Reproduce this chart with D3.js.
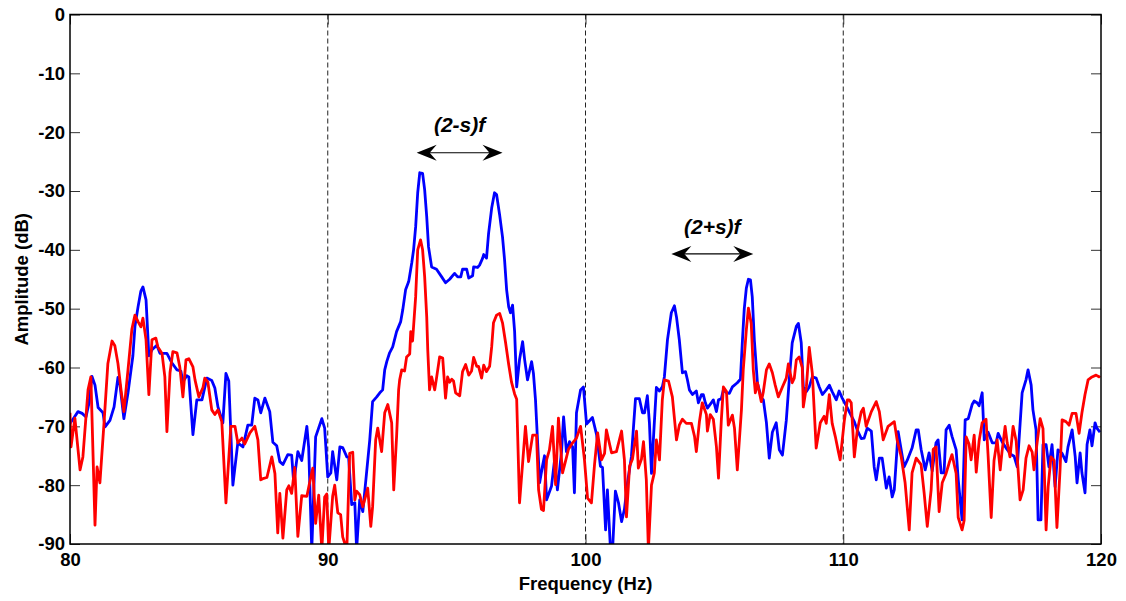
<!DOCTYPE html>
<meta charset="utf-8">
<style>
body{margin:0;background:white}
text{font-family:"Liberation Sans",Arial,sans-serif;font-weight:bold}
.tick text{font-size:18.5px;fill:#000}
.tick line{stroke:#333;stroke-width:1}
</style>
<svg width="1126" height="601"></svg>
<script src="https://cdn.jsdelivr.net/npm/d3@7"></script>
<script>
// spectrum (Hz, dB)
var blueHz = [80.00,80.16,80.31,80.47,80.62,80.74,80.85,80.97,81.09,81.28,81.36,81.55,81.71,81.86,81.94,82.09,82.25,82.44,82.52,82.64,82.75,82.83,82.95,83.06,83.18,83.37,83.49,83.76,83.95,84.15,84.30,84.38,84.53,84.61,84.77,84.92,85.12,85.31,85.50,85.62,85.74,85.93,86.05,86.16,86.32,86.51,86.71,86.90,87.05,87.17,87.29,87.40,87.56,87.75,87.87,88.02,88.14,88.26,88.45,88.60,88.68,88.84,88.99,89.19,89.26,89.38,89.53,89.77,89.88,90.00,90.12,90.19,90.35,90.47,90.58,90.74,90.81,90.93,91.05,91.12,91.24,91.36,91.51,91.63,91.74,91.90,92.02,92.13,92.21,92.29,92.40,92.52,92.67,92.83,92.91,93.02,93.14,93.26,93.33,93.41,93.49,93.57,93.68,93.76,93.84,93.91,94.03,94.22,94.42,94.57,94.73,94.92,95.04,95.16,95.23,95.39,95.47,95.62,95.66,95.81,95.89,96.01,96.05,96.16,96.24,96.36,96.47,96.55,96.67,96.78,96.86,96.94,97.02,97.09,97.17,97.25,97.33,97.44,97.56,97.64,97.75,97.91,97.98,98.06,98.10,98.22,98.33,98.41,98.49,98.68,98.80,98.91,99.07,99.15,99.26,99.38,99.50,99.57,99.65,99.81,99.92,100.04,100.27,100.43,100.58,100.66,100.78,100.85,100.97,101.05,101.16,101.28,101.40,101.51,101.63,101.78,101.94,102.09,102.21,102.29,102.40,102.48,102.56,102.67,102.75,102.87,102.98,103.06,103.18,103.33,103.45,103.53,103.64,103.76,103.88,103.95,104.03,104.15,104.30,104.38,104.50,104.57,104.65,104.73,104.88,104.96,105.08,105.16,105.27,105.35,105.47,105.58,105.70,105.89,106.01,106.09,106.16,106.24,106.32,106.40,106.47,106.55,106.67,106.82,106.90,107.02,107.13,107.25,107.40,107.52,107.64,107.79,107.91,108.02,108.18,108.26,108.37,108.45,108.57,108.68,108.80,108.95,109.07,109.19,109.34,109.46,109.57,109.73,109.84,109.96,110.12,110.23,110.43,110.54,110.70,110.81,110.93,111.09,111.20,111.28,111.40,111.51,111.67,111.78,111.90,111.98,112.13,112.36,112.48,112.67,112.83,112.91,113.02,113.18,113.33,113.45,113.60,113.68,113.80,113.91,113.99,114.11,114.22,114.38,114.46,114.61,114.73,114.85,115.00,115.08,115.19,115.27,115.39,115.47,115.62,115.78,115.93,116.01,116.16,116.32,116.51,116.63,116.75,116.82,116.94,117.09,117.17,117.29,117.36,117.48,117.56,117.67,117.75,117.87,117.98,118.10,118.22,118.33,118.49,118.64,118.72,118.88,119.00,119.07,119.19,119.26,119.38,119.46,119.57,119.65,119.77,119.84,119.96];
var blueDb = [-69.5,-68.5,-67.5,-67.8,-68.4,-66,-61.5,-63,-66.8,-67.7,-70.1,-69,-66.7,-61.7,-63,-68.7,-64.3,-58,-53,-49.7,-47,-46.3,-48.5,-58,-57,-56.2,-57.6,-57.6,-59.2,-60.4,-60.6,-62.4,-61.4,-61.6,-71.4,-65.5,-65.5,-61.8,-62.2,-63.5,-66.7,-69.4,-61,-62.3,-80,-72.8,-73.5,-69.8,-69.8,-65.2,-65.5,-67.7,-65.2,-67.5,-72.7,-73.3,-76,-76.5,-74.8,-74.9,-79.6,-74.3,-75.8,-70,-73.6,-91,-71.8,-68.7,-70.3,-78.6,-77.9,-74.3,-79.1,-73.5,-73.6,-75.2,-75.3,-83.3,-83,-91,-82.5,-84.5,-77.7,-72.3,-65.8,-65,-64.3,-63.8,-60.4,-59,-57.5,-56.5,-53.9,-52.2,-50.2,-46.8,-45.4,-42.2,-40,-36.1,-30.3,-26.9,-27,-29.8,-34.4,-39.5,-42.9,-43.3,-44.6,-45.6,-45,-44,-44.6,-44.6,-43.3,-43.3,-44.8,-44.4,-42.9,-43,-42.6,-41.4,-40.8,-41.4,-37.2,-32.9,-30.3,-30.6,-34.1,-37.8,-41.7,-46.8,-49.7,-50.7,-49.4,-53.9,-63.3,-58.7,-55.6,-58.7,-62.1,-59,-61,-65.5,-69,-79.6,-76.8,-75,-82.5,-80.2,-75.7,-80.8,-74.3,-68.4,-74.3,-72.6,-73.5,-81.3,-67.7,-63.8,-63.3,-69.6,-68.5,-71.4,-76.8,-77,-87.6,-80.8,-91,-91,-81,-83,-86.2,-84.1,-79.6,-75.2,-65.3,-65.3,-67.7,-67.7,-64.8,-69.4,-78,-69.4,-63.4,-64,-63.3,-61.6,-55.3,-50.7,-49.5,-51.4,-55.3,-60.9,-60.7,-62,-63.8,-64.6,-64,-66,-64.6,-64.6,-66,-66.9,-66,-65.5,-67.5,-65.5,-65.3,-63.8,-64.3,-64.4,-63.3,-62.6,-62,-55.3,-50,-46.5,-45,-45.1,-48,-55.3,-62.6,-65.2,-65.5,-69.4,-75.4,-71,-69.4,-74,-74.9,-69,-61.8,-55.8,-53,-52.5,-55.8,-63.3,-64.1,-63.3,-61.6,-61.8,-63.3,-64.6,-63.8,-63,-64.1,-65.5,-64,-65.2,-66.5,-67.5,-69.2,-70.6,-72.1,-72,-70.3,-70.8,-76.9,-79.1,-75.4,-75.4,-80.5,-78.6,-82,-80.8,-70.9,-76.9,-75.8,-73.7,-70.6,-70.6,-73.9,-77.4,-74.5,-77.6,-72.8,-72.3,-77.9,-77.9,-70.6,-69.8,-71.7,-74,-79,-85.9,-68.9,-68.7,-66.3,-65.7,-66,-66.5,-64.3,-72.3,-71,-72.8,-72.8,-71.2,-72.6,-73.7,-74.8,-75.1,-76.9,-72.3,-64.3,-62.1,-60.4,-63,-67.2,-70.6,-85.9,-85.9,-73.1,-73.1,-76.9,-73.1,-80.3,-74,-74.6,-76,-73.5,-70.6,-75.2,-79.6,-74.5,-77.9,-81.3,-73.1,-70.6,-73.3,-69.4,-70.3,-71];

var redHz = [80.00,80.04,80.19,80.39,80.50,80.70,80.81,80.97,81.05,81.16,81.32,81.47,81.63,81.74,81.86,81.98,82.09,82.25,82.40,82.52,82.64,82.75,82.83,82.95,83.06,83.18,83.33,83.41,83.57,83.68,83.76,83.88,83.99,84.15,84.26,84.38,84.50,84.61,84.77,84.85,85.00,85.16,85.23,85.35,85.50,85.62,85.74,85.89,86.05,86.24,86.40,86.51,86.67,86.78,86.98,87.17,87.29,87.40,87.48,87.64,87.83,87.95,88.06,88.14,88.26,88.41,88.49,88.60,88.72,88.84,88.99,89.19,89.30,89.42,89.53,89.65,89.77,89.88,89.96,90.04,90.19,90.27,90.39,90.50,90.58,90.74,90.85,90.97,91.05,91.12,91.24,91.36,91.55,91.67,91.74,91.86,91.94,92.09,92.21,92.33,92.48,92.56,92.67,92.75,92.79,92.87,92.98,93.06,93.18,93.22,93.29,93.41,93.49,93.60,93.68,93.76,93.84,93.88,93.95,94.03,94.15,94.22,94.34,94.46,94.57,94.65,94.73,94.81,94.88,94.96,95.12,95.23,95.35,95.47,95.58,95.66,95.78,95.85,95.97,96.05,96.16,96.28,96.36,96.43,96.55,96.67,96.78,96.90,97.02,97.13,97.25,97.33,97.44,97.56,97.67,97.79,97.95,98.10,98.18,98.29,98.37,98.49,98.60,98.72,98.84,98.95,99.11,99.22,99.34,99.50,99.65,99.81,99.96,100.08,100.23,100.35,100.47,100.62,100.74,100.81,101.01,101.20,101.40,101.51,101.59,101.71,101.82,101.98,102.05,102.17,102.25,102.36,102.44,102.56,102.67,102.75,102.87,102.98,103.06,103.22,103.37,103.53,103.64,103.76,103.91,104.11,104.23,104.30,104.42,104.53,104.69,104.73,104.84,104.96,105.08,105.16,105.27,105.35,105.47,105.54,105.70,105.78,105.89,106.05,106.12,106.24,106.32,106.43,106.51,106.59,106.67,106.82,106.90,107.02,107.13,107.25,107.36,107.48,107.64,107.79,107.87,108.02,108.10,108.18,108.29,108.41,108.45,108.57,108.68,108.80,108.95,109.11,109.26,109.34,109.46,109.57,109.69,109.81,109.88,110.04,110.16,110.23,110.31,110.43,110.54,110.70,110.78,110.89,111.09,111.28,111.40,111.55,111.74,111.98,112.09,112.25,112.40,112.56,112.67,112.83,113.02,113.14,113.26,113.41,113.49,113.60,113.72,113.84,113.99,114.11,114.22,114.38,114.46,114.61,114.69,114.77,114.88,114.96,115.08,115.16,115.27,115.39,115.54,115.62,115.74,115.85,115.97,116.09,116.16,116.28,116.36,116.47,116.59,116.71,116.86,116.98,117.09,117.21,117.33,117.40,117.52,117.64,117.75,117.87,117.95,118.06,118.18,118.29,118.41,118.49,118.64,118.76,118.88,119.03,119.15,119.26,119.38,119.50,119.65,119.81,119.92,119.96];
var redDb = [-67.7,-73.5,-68.6,-77.4,-75.2,-63.8,-61.6,-86.8,-76.9,-79.6,-69.4,-59.3,-55.5,-56.3,-59.3,-63.8,-67.5,-60.4,-53.5,-51.1,-52.2,-53.1,-51.6,-55.3,-64.6,-55.3,-55,-56.5,-57.6,-61.6,-70.9,-60.9,-57.3,-57.5,-59.9,-65,-58.7,-58.5,-59.9,-62.1,-65,-63.4,-61.8,-62.5,-67.2,-68,-67.2,-69.2,-83,-70,-70,-72.8,-72,-73,-71.1,-70,-72.3,-79.1,-78.9,-78.7,-75.2,-78,-88.1,-81.4,-89,-80.8,-80.1,-81.4,-77,-88.7,-81.8,-81.9,-79.5,-77.1,-86.5,-81.7,-91,-82,-81.5,-91,-81.9,-80,-84.7,-85,-88.8,-91,-74.6,-74.4,-82.5,-81,-81.6,-83.7,-80.5,-87,-83.7,-72.3,-70.3,-74.3,-67.7,-66.3,-69.4,-80.8,-71.8,-63.8,-62.1,-60.4,-60.6,-58.2,-57.7,-53.9,-55.5,-48,-40,-38.3,-40,-44.6,-51.4,-57,-63.8,-61.6,-63.8,-61.8,-58.2,-58.4,-65.2,-61.6,-62.5,-62,-62.3,-64.3,-64.8,-60.7,-59.5,-61.3,-60.6,-58.3,-59.8,-59.8,-61.8,-59.6,-60.7,-59.8,-56.5,-52.4,-51.1,-50.8,-52.4,-55.8,-59.5,-62.5,-64.5,-65.4,-83,-76.3,-70,-76,-71.5,-71.5,-80.8,-84.1,-84.3,-75.7,-74,-70,-79.9,-68.6,-77.9,-76,-73.9,-72.8,-72,-70,-75.7,-82.2,-83,-76.5,-71.1,-75.7,-74.6,-70.6,-74.5,-74.3,-70.8,-75.7,-85.4,-76.8,-75.6,-70.8,-77.1,-75.6,-72.6,-79.1,-91,-80,-77.9,-72.3,-75.7,-65.5,-62.1,-62.3,-65,-72.3,-69.8,-68.8,-69.5,-69.5,-71.7,-74.3,-69.2,-66,-68,-70.8,-68,-68.8,-73.5,-78.8,-68.9,-63.3,-64.1,-69.8,-68.1,-70.3,-77.4,-67.2,-60.4,-53.6,-49.9,-52.5,-60.4,-64.3,-62.6,-65.8,-64.1,-60.4,-59.4,-60.9,-63,-65,-63.3,-61.8,-59.4,-62.6,-61.8,-58.7,-58.2,-60,-66.7,-63.3,-56.6,-61,-73.7,-69.4,-68.3,-69.5,-64.6,-69.5,-71.7,-74.3,-75.7,-69.1,-65.5,-65.5,-66,-75.2,-70.8,-67.5,-66.9,-70,-67.5,-65.8,-67.5,-72.3,-70,-69.2,-72.3,-75.2,-79.6,-87.6,-77.9,-75.4,-76.5,-81.4,-87,-80.8,-73.9,-73.5,-84.5,-79.6,-78,-76.2,-74.8,-78,-85.5,-87.6,-86,-71.8,-73,-75.7,-71.5,-77.8,-72.5,-69.4,-68.8,-75,-85.5,-75.8,-72.3,-77.4,-74.3,-70,-72.8,-75.2,-70,-72.5,-82.5,-80.8,-75.4,-73.3,-74.4,-77.4,-72.8,-68.7,-70.4,-87.6,-80.3,-75.2,-75.8,-87.2,-77.5,-68.9,-69.2,-69.8,-67.8,-67.8,-71.2,-67.7,-64.6,-62.1,-61.6,-61.3,-61.6,-61.4];

var xTicks = [80, 90, 100, 110, 120];
var yTicks = [0, -10, -20, -30, -40, -50, -60, -70, -80, -90];
var gridHz = [90, 100, 110];

// annotation: label, arrow ends (Hz), arrow level (dB), label level (dB)
var notes = [
  {label: "(2-s)f", f0: 93.45, f1: 96.78, db: -23.5, textDb: -19.9},
  {label: "(2+s)f", f0: 103.33, f1: 106.51, db: -40.7, textDb: -37.3}
];

var svg = d3.select("svg"),
    margin = {top: 14.5, right: 25, bottom: 57, left: 70},
    width = +svg.attr("width") - margin.left - margin.right,
    height = +svg.attr("height") - margin.top - margin.bottom;

var x = d3.scaleLinear().domain([80, 120]).range([0, width]);
var y = d3.scaleLinear().domain([-90, 0]).range([height, 0]);

var g = svg.append("g").attr("transform", "translate(" + margin.left + "," + margin.top + ")");

g.append("clipPath").attr("id", "clip")
  .append("rect").attr("width", width).attr("height", height);

// dashed grid at 90/100/110
g.append("g").selectAll("line")
  .data(gridHz)
  .enter().append("line")
    .attr("x1", function(d) { return x(d); })
    .attr("x2", function(d) { return x(d); })
    .attr("y1", 0).attr("y2", height)
    .attr("stroke", "#222")
    .attr("stroke-width", 1)
    .attr("stroke-dasharray", "5,3");

// axes, ticks pointing inward
g.append("g").attr("transform", "translate(0," + height + ")")
  .call(d3.axisBottom(x).tickValues(xTicks).tickFormat(d3.format("d")).tickSizeInner(-10).tickSizeOuter(0).tickPadding(9));
var yAxis = g.append("g")
  .call(d3.axisLeft(y).tickValues(yTicks).tickFormat(d3.format("d")).tickSizeInner(-10).tickSizeOuter(0).tickPadding(5));
g.append("g").call(d3.axisTop(x).tickValues(xTicks).tickFormat("").tickSizeInner(-10).tickSizeOuter(0));
g.append("g").attr("transform", "translate(" + width + ",0)")
  .call(d3.axisRight(y).tickValues(yTicks).tickFormat("").tickSizeInner(-10).tickSizeOuter(0));
g.selectAll(".domain").remove();
yAxis.selectAll("text").text(function(d) { return d < 0 ? "-" + Math.abs(d) : d; });

var line = d3.line()
    .x(function(d) { return x(d[0]); })
    .y(function(d) { return y(d[1]); });

var series = [
  {hz: blueHz, db: blueDb, color: "#0000ff"},
  {hz: redHz, db: redDb, color: "#ff0000"}
];

g.append("g").attr("clip-path", "url(#clip)")
  .selectAll("path")
  .data(series)
  .enter().append("path")
    .attr("d", function(s) { return line(d3.zip(s.hz, s.db)); })
    .attr("fill", "none")
    .attr("stroke", function(s) { return s.color; })
    .attr("stroke-width", 2.8)
    .attr("stroke-linejoin", "round");

// frame
g.append("rect").attr("width", width).attr("height", height)
  .attr("fill", "none").attr("stroke", "#000").attr("stroke-width", 1.5);

// annotations with double arrows
function head(xt, yt, dir) {
  var L = 20, W = 8, N = 13;
  return "M" + xt + "," + yt +
    "L" + (xt + dir * L) + "," + (yt - W) +
    "L" + (xt + dir * N) + "," + yt +
    "L" + (xt + dir * L) + "," + (yt + W) + "Z";
}

var ann = g.append("g").selectAll("g").data(notes).enter().append("g");
ann.append("line")
  .attr("x1", function(d) { return x(d.f0) + 10; })
  .attr("x2", function(d) { return x(d.f1) - 10; })
  .attr("y1", function(d) { return y(d.db); })
  .attr("y2", function(d) { return y(d.db); })
  .attr("stroke", "#000").attr("stroke-width", 1.2);
ann.append("path").attr("d", function(d) { return head(x(d.f0), y(d.db), 1); });
ann.append("path").attr("d", function(d) { return head(x(d.f1), y(d.db), -1); });
ann.append("text")
  .attr("x", function(d) { return x((d.f0 + d.f1) / 2); })
  .attr("y", function(d) { return y(d.textDb); })
  .attr("text-anchor", "middle")
  .style("font-size", "21px")
  .style("font-style", "italic")
  .text(function(d) { return d.label; });

// axis titles
svg.append("text")
  .attr("x", margin.left + width / 2)
  .attr("y", 590)
  .attr("text-anchor", "middle")
  .style("font-size", "18.5px")
  .text("Frequency (Hz)");

svg.append("text")
  .attr("transform", "translate(28," + (margin.top + height / 2) + ") rotate(-90)")
  .attr("text-anchor", "middle")
  .style("font-size", "18.5px")
  .text("Amplitude (dB)");
</script>
